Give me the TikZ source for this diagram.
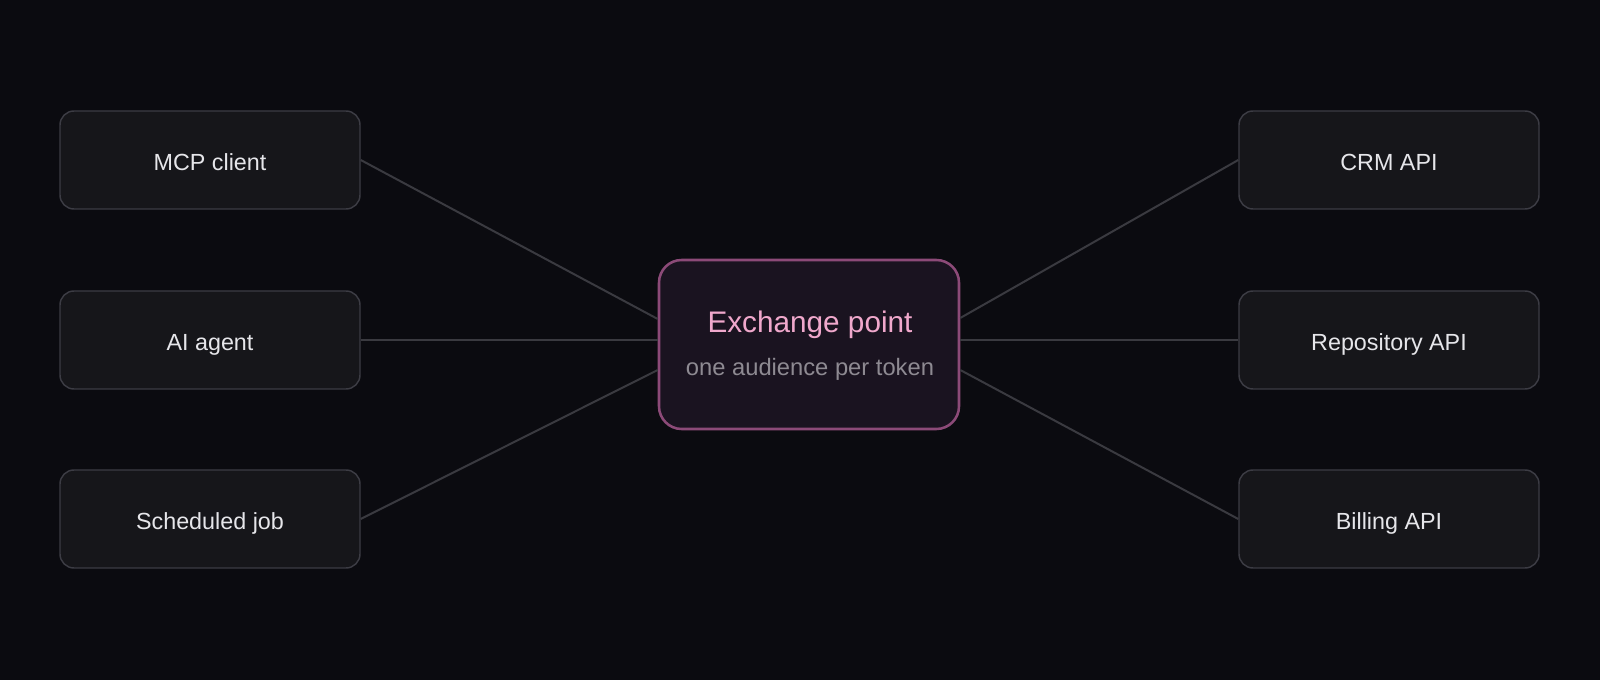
\documentclass[tikz,border=0pt]{standalone}
\usepackage{fontspec}
\setmainfont{Liberation Sans}
\usetikzlibrary{calc}
\definecolor{bg}{HTML}{0B0B10}
\definecolor{sidefill}{HTML}{16161A}
\definecolor{sideline}{HTML}{3C3C44}
\definecolor{sidetext}{HTML}{E6E6EA}
\definecolor{exfill}{HTML}{1A1320}
\definecolor{exline}{HTML}{8C4A78}
\definecolor{extitle}{HTML}{F0A8CC}
\definecolor{exsub}{HTML}{8E8A92}
\definecolor{wire}{HTML}{3A3A40}
\tikzset{
  sidebox/.style={draw=sideline, fill=sidefill, line width=1.1pt, rounded corners=10.5pt,
    minimum width=225pt, minimum height=73.5pt, inner sep=0pt,
    text=sidetext, font=\fontsize{17.5pt}{20pt}\selectfont,
    text height=16.5pt, text depth=0pt},
  exbox/.style={draw=exline, fill=exfill, line width=1.9pt, rounded corners=17pt,
    minimum width=225pt, minimum height=126.75pt, inner sep=0pt},
  wireline/.style={draw=wire, line width=1.5pt}
}
\begin{document}
\begin{tikzpicture}[x=0.75pt,y=-0.75pt]
\fill[bg] (0,0) rectangle (1600,680);
\useasboundingbox (0,0) rectangle (1600,680);

\node[sidebox] (mcp) at (210,160) {MCP client};
\node[sidebox] (agent) at (210,340) {AI agent};
\node[sidebox] (job) at (210,519) {Scheduled job};
\node[sidebox] (crm) at (1389,160) {CRM API};
\node[sidebox] (repo) at (1389,340) {Repository API};
\node[sidebox] (bill) at (1389,519) {Billing API};

\node[exbox] (ex) at (809,344.5) {};
\node[anchor=base, text=extitle, font=\fontsize{22.3pt}{26pt}\selectfont, inner sep=0pt] (extitlenode) at (810,333) {Exchange point};
\node[anchor=base, text=exsub, font=\fontsize{17.8pt}{21pt}\selectfont, inner sep=0pt] (exsubnode) at (810,376) {one audience per token};

\draw[wireline] (mcp.east) -- ($(ex.west)+(0,-25.5)$);
\draw[wireline] (agent.east) -- (agent.east -| ex.west);
\draw[wireline] (job.east) -- ($(ex.west)+(0,25.5)$);
\draw[wireline] (crm.west) -- ($(ex.east)+(0,-26.5)$);
\draw[wireline] (repo.west) -- (repo.west -| ex.east);
\draw[wireline] (bill.west) -- ($(ex.east)+(0,25.5)$);
\end{tikzpicture}
\end{document}
